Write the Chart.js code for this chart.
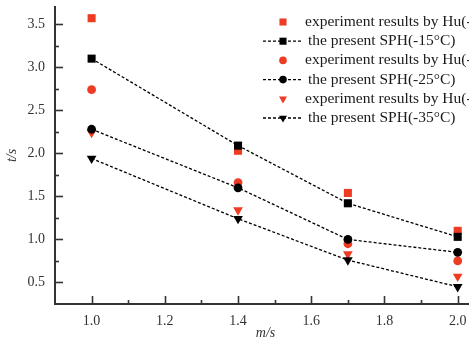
<!DOCTYPE html>
<html><head><meta charset="utf-8">
<script src="https://cdn.jsdelivr.net/npm/chart.js@4/dist/chart.umd.min.js"></script>
<style>html,body{margin:0;padding:0;background:#fff;overflow:hidden;width:469px;height:342px}canvas{display:block}</style>
</head><body>
<canvas id="c" width="560" height="342"></canvas>
<script>
const speeds = [1.0, 1.4, 1.7, 2.0];
const expHu15 = [3.57, 2.03, 1.54, 1.10];
const sph15   = [3.10, 2.09, 1.42, 1.03];
const expHu25 = [2.74, 1.66, 0.95, 0.75];
const sph25   = [2.28, 1.60, 1.00, 0.85];
const expHu35 = [2.24, 1.34, 0.83, 0.57];
const sph35   = [1.94, 1.24, 0.76, 0.45];
const xTicks = [1.0, 1.2, 1.4, 1.6, 1.8, 2.0];
const yTicks = [0.5, 1.0, 1.5, 2.0, 2.5, 3.0, 3.5];
const labels = ['experiment results by Hu(-15°C)','the present SPH(-15°C)','experiment results by Hu(-25°C)','the present SPH(-25°C)','experiment results by Hu(-35°C)','the present SPH(-35°C)'];

const RED = '#ee3b24', BLK = '#000';
const RAD = {rect:5.7, circle:4.4, triangle:5.6};
const LRAD = {rect:5, circle:3.8, triangle:4.6};
const pts = arr => arr.map((v,i)=>({x:speeds[i], y:v}));
function expDs(label, arr, style, rot){ return {label, data:pts(arr), showLine:false, pointStyle:style, rotation:rot||0, pointRadius:RAD[style], backgroundColor:RED, borderColor:RED, borderWidth:0, order:1, kind:'exp'}; }
function sphDs(label, arr, style, rot){ return {label, data:pts(arr), showLine:true, borderDash:[3,2], borderWidth:1.3, borderColor:BLK, backgroundColor:BLK, pointBorderColor:BLK, pointBackgroundColor:BLK, pointStyle:style, rotation:rot||0, pointRadius:RAD[style], pointBorderWidth:0, order:0, kind:'sph', tension:0}; }

const datasets = [
  expDs(labels[0], expHu15, 'rect'), sphDs(labels[1], sph15, 'rect'),
  expDs(labels[2], expHu25, 'circle'), sphDs(labels[3], sph25, 'circle'),
  expDs(labels[4], expHu35, 'triangle', 180), sphDs(labels[5], sph35, 'triangle', 180)
];

const FONT = 'Liberation Serif, Times New Roman, serif';
const AX = '#333';

const deco = {
  id:'deco',
  afterDraw(chart){
    const ctx = chart.ctx, xs = chart.scales.x, ys = chart.scales.y, a = chart.chartArea;
    ctx.save();
    ctx.strokeStyle = AX; ctx.lineWidth = 1.6;
    for (let v = 1.0; v <= 2.0001; v += 0.1) {
      const px = Math.round(xs.getPixelForValue(v)) + 0.5;
      const major = Math.round(v*10) % 2 === 0;
      ctx.beginPath(); ctx.moveTo(px, a.bottom); ctx.lineTo(px, a.bottom - (major?8:4)); ctx.stroke();
    }
    for (let v = 0.5; v <= 3.5001; v += 0.25) {
      const py = Math.round(ys.getPixelForValue(v)) + 0.5;
      const major = Math.round(v*4) % 2 === 0;
      ctx.beginPath(); ctx.moveTo(a.left, py); ctx.lineTo(a.left + (major?8:4), py); ctx.stroke();
    }
    const H = Chart.helpers;
    ctx.font = '15.5px ' + FONT; ctx.textBaseline = 'middle'; ctx.fillStyle = '#1a1a1a';
    chart.data.datasets.forEach((ds, i) => {
      const y = 22 + i * 19.2, mx = 283;
      if (ds.kind === 'sph') {
        ctx.save(); ctx.strokeStyle = BLK; ctx.lineWidth = 1.3; ctx.setLineDash([3,2]);
        ctx.beginPath(); ctx.moveTo(263, y); ctx.lineTo(302, y); ctx.stroke(); ctx.restore();
      }
      ctx.save();
      ctx.fillStyle = ds.kind==='sph' ? BLK : RED; ctx.strokeStyle = ctx.fillStyle;
      H.drawPoint(ctx, {pointStyle: ds.pointStyle, rotation: ds.rotation, radius: LRAD[ds.pointStyle], borderWidth: 0}, mx, y);
      ctx.restore();
      ctx.fillText(ds.label, ds.kind==='sph' ? 308 : 305, y);
    });
    ctx.restore();
  }
};

new Chart(document.getElementById('c'), {
  type:'scatter',
  data:{datasets},
  plugins:[deco],
  options:{
    responsive:false, animation:false, devicePixelRatio:1,
    layout:{padding:{top:7, right:84, left:0, bottom:0}},
    plugins:{legend:{display:false}, tooltip:{enabled:false}},
    scales:{
      x:{type:'linear', min:0.9, max:2.05,
        afterBuildTicks: s => { s.ticks = xTicks.map(v=>({value:v})); },
        afterFit: s => { s.height = 38; s.paddingLeft = 0; s.paddingRight = 0; },
        grid:{display:false, drawTicks:false},
        border:{display:true, color:AX, width:2},
        ticks:{padding:9, color:'#333', font:{family:FONT, size:14}, callback:v=>v.toFixed(1), maxRotation:0, autoSkip:false},
        title:{display:true, text:'m/s', color:'#333', font:{family:FONT, size:14, style:'italic'}, padding:{top:0,bottom:0}}
      },
      y:{type:'linear', min:0.25, max:3.7,
        afterBuildTicks: s => { s.ticks = yTicks.map(v=>({value:v})); },
        afterFit: s => { s.width = 55; s.paddingTop = 0; s.paddingBottom = 0; },
        grid:{display:false, drawTicks:false},
        border:{display:true, color:AX, width:2},
        ticks:{padding:10, color:'#333', font:{family:FONT, size:14}, callback:v=>v.toFixed(1), autoSkip:false},
        title:{display:true, text:'t/s', color:'#333', font:{family:FONT, size:14, style:'italic'}, padding:{top:4,bottom:0}}
      }
    }
  }
});
</script>
</body></html>
